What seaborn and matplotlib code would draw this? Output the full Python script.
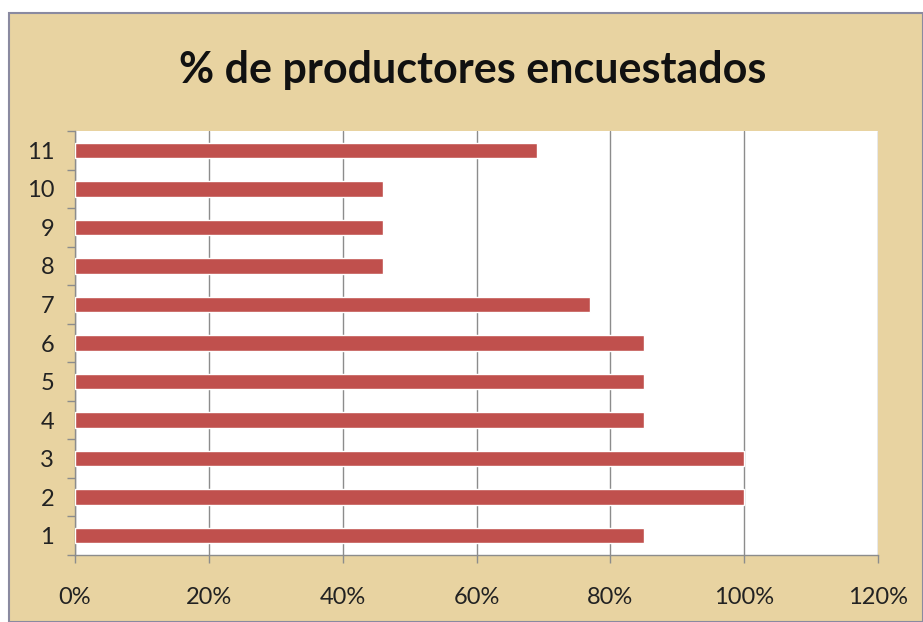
import matplotlib
matplotlib.use("Agg")
import matplotlib.pyplot as plt
from matplotlib.patches import Rectangle
from matplotlib.ticker import FixedLocator
import seaborn as sns
import pandas as pd

# Survey coverage per group
groups = ["1", "2", "3", "4", "5", "6", "7", "8", "9", "10", "11"]
shares = [0.85, 1.00, 1.00, 0.85, 0.85, 0.85, 0.77, 0.46, 0.46, 0.46, 0.69]
x_ticks = [0.0, 0.2, 0.4, 0.6, 0.8, 1.0, 1.2]
x_tick_labels = ["0%", "20%", "40%", "60%", "80%", "100%", "120%"]
title = "% de productores encuestados"

df = pd.DataFrame({"grupo": groups, "porcentaje": shares})
order = groups[::-1]

sns.set_theme(style="white")
plt.rcParams["font.family"] = ["Lato", "DejaVu Sans"]

fig = plt.figure(figsize=(9.23, 6.22), dpi=100)
fig.patch.set_facecolor("white")

# Parchment panel behind the chart
panel = Rectangle((9 / 923, 0), 1 - 9 / 923, 1 - 13 / 622,
                  transform=fig.transFigure, facecolor="#E8D3A1",
                  edgecolor="#8A8AA0", linewidth=1.5, zorder=-10)
fig.patches.append(panel)

ax = fig.add_axes([75 / 923, 1 - 555 / 622, (878 - 75) / 923, (555 - 131) / 622])
ax.set_facecolor("white")

sns.barplot(data=df, x="porcentaje", y="grupo", order=order, orient="h",
            color="#C0504D", saturation=1, width=0.4, ax=ax, zorder=3)

ax.set_xlim(0, 1.2)
ax.set_ylim(len(groups) - 0.5, -0.5)
ax.set_xticks(x_ticks)
ax.set_xticklabels(x_tick_labels, fontsize=17, color="#222222")
ax.set_xlabel("")
ax.set_ylabel("")
ax.tick_params(axis="y", which="major", length=0, labelsize=17,
               labelcolor="#222222", pad=15)
ax.yaxis.set_minor_locator(FixedLocator([i - 0.5 for i in range(len(groups) + 1)]))
ax.tick_params(axis="y", which="minor", length=6, width=1, color="#8C8C8C",
               direction="out", left=True)
ax.tick_params(axis="x", length=6, width=1, color="#8C8C8C", direction="out",
               bottom=True, pad=17)

ax.grid(axis="x", color="#8C8C8C", linewidth=1, zorder=1)
ax.set_axisbelow(True)
for side in ["top", "right"]:
    ax.spines[side].set_visible(False)
for side in ["left", "bottom"]:
    ax.spines[side].set_color("#8C8C8C")
    ax.spines[side].set_linewidth(1)

fig.text(473 / 923, 1 - 70 / 622, title, ha="center", va="center",
         fontsize=31, fontweight="bold", color="#111111")

fig.savefig("out.png", dpi=100)
